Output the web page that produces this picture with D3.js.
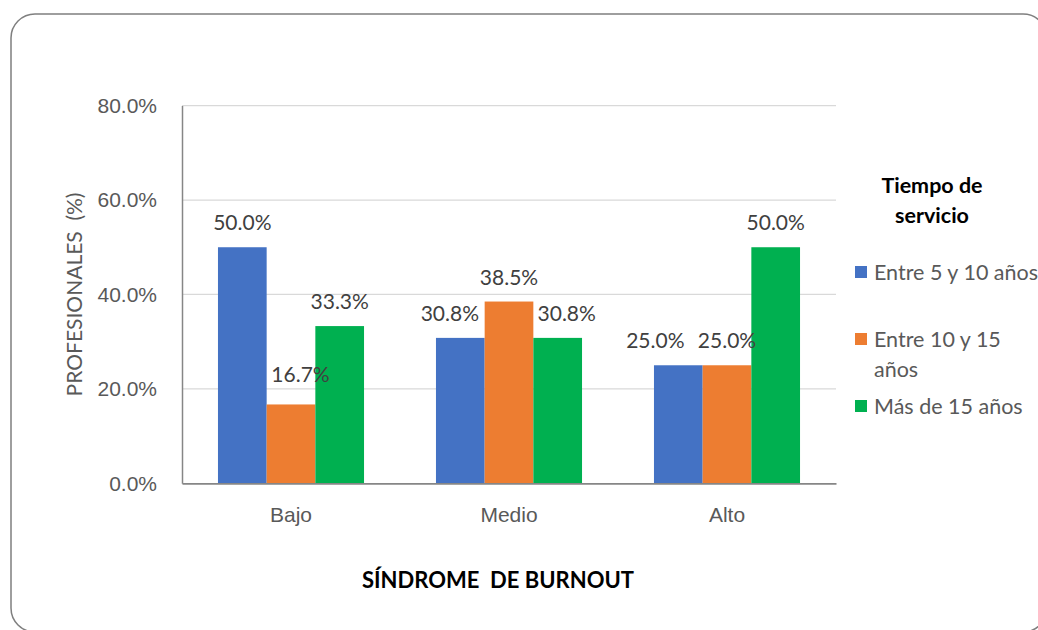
<!DOCTYPE html>
<html>
<head>
<meta charset="utf-8">
<script src="https://cdn.jsdelivr.net/npm/d3@7"></script>
<style>
  body { margin: 0; background: #fff; }
  svg { display: block; font-family: Lato, "Open Sans", sans-serif; }
</style>
</head>
<body>
<script>
(function() {
  'use strict';

  const categories = ['Bajo', 'Medio', 'Alto'];
  const series = ['Entre 5 y 10 años', 'Entre 10 y 15 años', 'Más de 15 años'];
  const legendLines = [['Entre 5 y 10 años'], ['Entre 10 y 15', 'años'], ['Más de 15 años']];
  const values = [
    [50.0, 30.8, 25.0],
    [16.7, 38.5, 25.0],
    [33.3, 30.8, 50.0]
  ];
  const yTicks = [0, 20, 40, 60, 80];
  const colors = ['#4472C4', '#ED7D31', '#00B050'];

  // hand-moved data labels in the original (pixels)
  const labelDx = [[0, -10.5, -23], [9.5, 0, 0], [0, 9, 0]];
  const labelDy = [[0, 0, 0], [-6, 0, 0], [0, 0, 0]];

  const w = 1038;
  const h = 630;
  const left = 182, right = 836, top = 105.6, bottom = 483.3;
  const fs = '21px';

  const svg = d3.select('body').append('svg')
    .attr('width', w)
    .attr('height', h);

  // outer frame
  svg.append('rect')
    .attr('x', 11).attr('y', 14)
    .attr('width', 1036).attr('height', 618)
    .attr('rx', 24).attr('ry', 24)
    .attr('fill', 'none')
    .attr('stroke', '#7f7f7f')
    .attr('stroke-width', 1.5);

  const x0 = d3.scaleBand()
    .domain(categories)
    .range([left, right])
    .paddingInner(0.33)
    .paddingOuter(0.165);

  const x1 = d3.scaleBand()
    .domain(series)
    .range([0, x0.bandwidth()]);

  const y = d3.scaleLinear()
    .domain([0, 80])
    .range([bottom, top]);

  // gridlines
  svg.append('g')
    .selectAll('line')
    .data(yTicks.slice(1))
    .join('line')
    .attr('x1', left).attr('x2', right)
    .attr('y1', d => y(d)).attr('y2', d => y(d))
    .attr('stroke', '#d9d9d9')
    .attr('stroke-width', 1.3);

  // y axis
  const yAxis = d3.axisLeft(y)
    .tickValues(yTicks)
    .tickSize(0)
    .tickPadding(25)
    .tickFormat(d => d.toFixed(1) + '%');
  const gy = svg.append('g')
    .attr('transform', 'translate(' + left + ',0)')
    .call(yAxis);
  gy.select('.domain').attr('stroke', '#868686').attr('stroke-width', 1.5);
  gy.selectAll('text')
    .attr('fill', '#595959')
    .style('font-size', fs);

  const rows = [];
  series.forEach((s, i) => {
    values[i].forEach((v, j) => rows.push({ s: s, v: v, c: categories[j], i: i, j: j }));
  });

  // bars
  svg.append('g')
    .selectAll('rect')
    .data(rows)
    .join('rect')
    .attr('x', d => x0(d.c) + x1(d.s))
    .attr('y', d => y(d.v))
    .attr('width', x1.bandwidth())
    .attr('height', d => y(0) - y(d.v))
    .attr('fill', d => colors[d.i]);

  // data labels (on top of all bars)
  svg.append('g')
    .selectAll('text')
    .data(rows)
    .join('text')
    .attr('x', d => x0(d.c) + x1(d.s) + x1.bandwidth() / 2 + labelDx[d.i][d.j])
    .attr('y', d => y(d.v) - 16.8 + labelDy[d.i][d.j])
    .attr('text-anchor', 'middle')
    .attr('fill', '#404040')
    .style('font-size', fs)
    .text(d => d.v.toFixed(1) + '%');

  // x axis
  const xAxis = d3.axisBottom(x0).tickSize(0).tickPadding(24);
  const gx = svg.append('g')
    .attr('transform', 'translate(0,' + bottom + ')')
    .call(xAxis);
  gx.select('.domain').attr('stroke', '#868686').attr('stroke-width', 1.8);
  gx.selectAll('text')
    .attr('fill', '#595959')
    .style('font-size', fs);

  // axis titles
  svg.append('text')
    .attr('transform', 'translate(82,' + (top + bottom) / 2 + ') rotate(-90)')
    .attr('text-anchor', 'middle')
    .attr('fill', '#595959')
    .style('font-size', fs)
    .style('white-space', 'pre')
    .text('PROFESIONALES  (%)');

  svg.append('text')
    .attr('x', 498).attr('y', 588)
    .attr('text-anchor', 'middle')
    .attr('fill', '#000')
    .style('font-size', '22px')
    .style('font-weight', 'bold')
    .style('white-space', 'pre')
    .text('SÍNDROME  DE BURNOUT');

  // legend
  const legend = svg.append('g');
  legend.append('text')
    .attr('x', 932).attr('y', 193)
    .attr('text-anchor', 'middle')
    .style('font-size', '21.5px')
    .style('font-weight', 'bold')
    .selectAll('tspan')
    .data(['Tiempo de', 'servicio'])
    .join('tspan')
    .attr('x', 932)
    .attr('dy', (d, i) => i ? 30 : 0)
    .text(d => d);

  const itemY = [266, 333, 400];
  const items = legend.selectAll('g.item')
    .data(series)
    .join('g')
    .attr('class', 'item')
    .attr('transform', (d, i) => 'translate(855,' + itemY[i] + ')');
  items.append('rect')
    .attr('width', 12).attr('height', 12)
    .attr('fill', (d, i) => colors[i]);
  items.append('text')
    .attr('fill', '#595959')
    .style('font-size', '21.5px')
    .selectAll('tspan')
    .data((d, i) => legendLines[i])
    .join('tspan')
    .attr('x', 19)
    .attr('y', (d, i) => 13.5 + i * 30)
    .text(d => d);
}());
</script>
</body>
</html>
